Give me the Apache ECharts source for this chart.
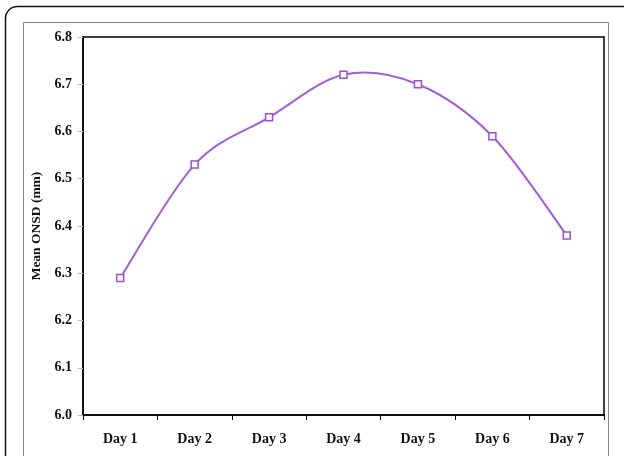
<!DOCTYPE html>
<html><head><meta charset="utf-8">
<script src="https://cdn.jsdelivr.net/npm/echarts@6/dist/echarts.min.js"></script>
<style>html,body{margin:0;padding:0;background:#fff;}#c{width:624px;height:456px;}</style>
</head><body><div id="c"></div>
<script>
const categories = ['Day 1','Day 2','Day 3','Day 4','Day 5','Day 6','Day 7'];
const meanONSD = [6.29, 6.53, 6.63, 6.72, 6.70, 6.59, 6.38];
const yTicks = [6.0, 6.1, 6.2, 6.3, 6.4, 6.5, 6.6, 6.7, 6.8];
const yTitle = 'Mean ONSD (mm)';

const chart = echarts.init(document.getElementById('c'), null, {renderer:'canvas'});
const font = '"Liberation Serif", "Times New Roman", serif';
const lineColor = '#a060d8';

// Smooth curve segment (Catmull-Rom, like a spreadsheet's smoothed line), drawn through axis coords
function renderSegment(params, api) {
  const i = params.dataIndex;
  if (i >= meanONSD.length - 1) return null;
  const n = meanONSD.length;
  const pt = k => { const j = Math.max(0, Math.min(n - 1, k)); return api.coord([j, meanONSD[j]]); };
  const p0 = pt(i - 1), p1 = pt(i), p2 = pt(i + 1), p3 = pt(i + 2);
  const t = 1 / 6;
  return {
    type: 'bezierCurve',
    shape: {
      x1: p1[0], y1: p1[1], x2: p2[0], y2: p2[1],
      cpx1: p1[0] + (p2[0] - p0[0]) * t, cpy1: p1[1] + (p2[1] - p0[1]) * t,
      cpx2: p2[0] - (p3[0] - p1[0]) * t, cpy2: p2[1] - (p3[1] - p1[1]) * t
    },
    style: { fill: null, stroke: lineColor, lineWidth: 2 },
    silent: true
  };
}

chart.setOption({
  animation: false,
  backgroundColor: '#fff',
  graphic: [
    {type:'rect', shape:{x:5.5, y:6.5, width:640, height:470, r:12}, style:{fill:'none', stroke:'#111', lineWidth:1.5}, z:-10},
    {type:'rect', shape:{x:23.5, y:22.5, width:585, height:450}, style:{fill:'none', stroke:'#888', lineWidth:1}, z:-10}
  ],
  grid: {left:83, top:37, right:20, bottom:41, show:true, borderColor:'#000', borderWidth:1.5, backgroundColor:'transparent'},
  xAxis: {
    type:'category', data: categories, boundaryGap:true,
    axisLine:{lineStyle:{color:'#000', width:1.5}},
    axisTick:{show:true, inside:false, length:5, lineStyle:{color:'#000'}},
    axisLabel:{color:'#111', fontFamily:font, fontWeight:'bold', fontSize:14, margin:17},
    splitLine:{show:false}
  },
  yAxis: {
    type:'value', min:6.0, max:6.8, interval:0.1,
    name: yTitle, nameLocation:'middle', nameGap:31, nameRotate:90,
    nameTextStyle:{color:'#111', fontFamily:font, fontWeight:'bold', fontSize:13.5},
    axisLine:{show:true, lineStyle:{color:'#000', width:1.5}},
    axisTick:{show:true, inside:false, length:5, lineStyle:{color:'#bbb'}},
    axisLabel:{color:'#111', fontFamily:font, fontWeight:'bold', fontSize:14, margin:11,
      formatter: v => { const t = yTicks.find(k => Math.abs(k - v) < 1e-6); return t === undefined ? '' : t.toFixed(1); }},
    splitLine:{show:false}
  },
  series: [
    { type:'custom', data: meanONSD, renderItem: renderSegment, z:2 },
    {
      type:'line', data: meanONSD, z:3,
      symbol:'rect', symbolSize:7,
      lineStyle:{opacity:0},
      itemStyle:{color:'#fff', borderColor:'#9a50d0', borderWidth:1.5}
    }
  ]
});
</script></body></html>
